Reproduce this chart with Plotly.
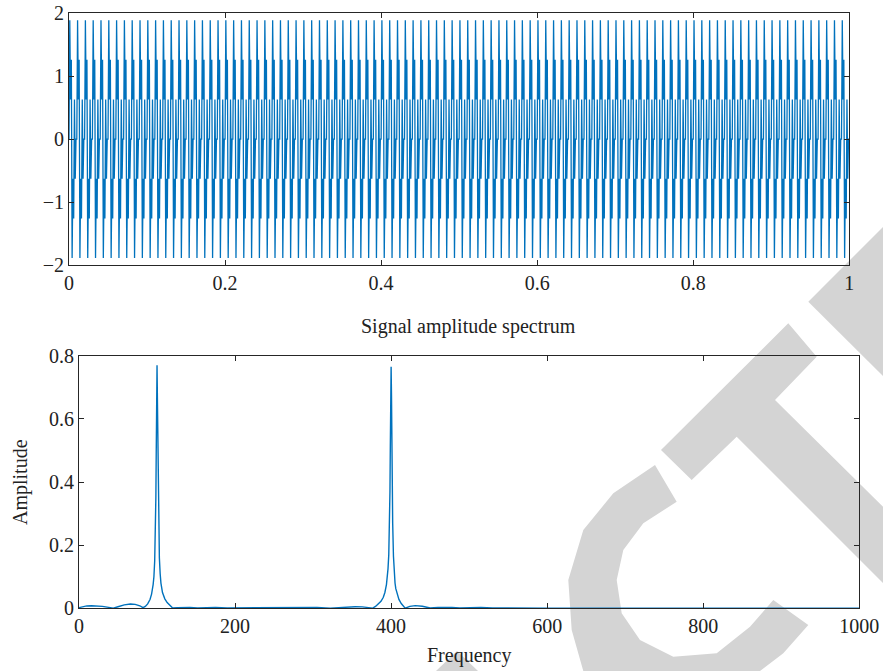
import plotly.graph_objects as go

W, H = 883, 671

# ---------------- data ----------------
# one period (10 samples, 0.01 s) of the time signal
signal_period = [0.0, 1.89, 0.63, 1.26, -1.89, -0.63, -1.26, 0.63, -0.63, 0.0]
n_periods = 100
signal_t = [i / 1000 for i in range(n_periods * len(signal_period) + 1)]
signal_y = (signal_period * n_periods) + [signal_period[0]]

spec_freq = [0, 5, 10, 16, 22, 30, 38, 44, 50, 58, 66, 72, 78, 82, 85, 88, 91, 93, 95, 96,
             97, 98, 98.5, 99, 99.5, 100, 100.5, 101, 101.5, 102, 103, 104, 105, 107, 110,
             113, 117, 120, 126, 135, 142, 152, 160, 175, 190, 200, 215, 230, 245, 260, 275,
             290, 305, 322, 335, 345, 354, 363, 370, 376.5, 380, 384, 387, 390, 392, 394,
             395, 396, 397, 398, 398.5, 399, 399.5, 400, 400.5, 401, 401.5, 402, 403, 404,
             405, 406, 408, 410, 413, 418, 424, 431, 440, 450, 460, 469, 478, 488, 500, 515,
             530, 550, 575, 600, 650, 700, 800, 900, 1000]
spec_amp = [0.002, 0.006, 0.0075, 0.008, 0.0078, 0.006, 0.003, 0.0005, 0.005, 0.011, 0.0135,
            0.0125, 0.008, 0.002, 0.006, 0.014, 0.028, 0.045, 0.075, 0.1,
            0.15, 0.25, 0.35, 0.5, 0.68, 0.77, 0.66, 0.5, 0.35, 0.26, 0.16, 0.11, 0.08, 0.05, 0.03,
            0.018, 0.008, 0.001, 0.002, 0.0035, 0.003, 0.001, 0.002, 0.003, 0.001, 0.001, 0.002,
            0.001, 0.002, 0.002, 0.001,
            0.003, 0.003, 0.0005, 0.003, 0.0045, 0.005, 0.0045, 0.003, 0.0005, 0.006, 0.014,
            0.022, 0.035, 0.05, 0.075,
            0.095, 0.125, 0.17, 0.27, 0.37, 0.52, 0.68, 0.765, 0.67, 0.5, 0.36, 0.27, 0.165, 0.11,
            0.08, 0.062, 0.04, 0.028, 0.015, 0.0005, 0.006, 0.0085, 0.0065, 0.001, 0.003, 0.0035,
            0.0025, 0.0008, 0.002, 0.0025,
            0.001, 0.0015, 0.001, 0.0005, 0.0003, 0.0002, 0.0001, 0.0001, 0.0]

top_xticks = [0, 0.2, 0.4, 0.6, 0.8, 1]
top_yticks = [-2, -1, 0, 1, 2]
bot_xticks = [0, 200, 400, 600, 800, 1000]
bot_yticks = [0, 0.2, 0.4, 0.6, 0.8]

title_text = "Signal amplitude spectrum"
xlabel_text = "Frequency"
ylabel_text = "Amplitude"

# ---------------- helpers ----------------
def px(x):
    return x / W

def py(y):
    return 1 - y / H

def path_from(points):
    s = "M " + " L ".join(f"{px(x):.5f},{py(y):.5f}" for x, y in points) + " Z"
    return s

FONT = "Liberation Serif"
LINE = "#0072BD"
AX = "#262626"
FS = 20

fig = go.Figure()
fig.add_trace(go.Scatter(x=signal_t, y=signal_y, mode="lines",
                         line=dict(color=LINE, width=1.3), xaxis="x", yaxis="y",
                         showlegend=False, hoverinfo="skip"))
fig.add_trace(go.Scatter(x=spec_freq, y=spec_amp, mode="lines",
                         line=dict(color=LINE, width=1.4), xaxis="x2", yaxis="y2",
                         showlegend=False, hoverinfo="skip"))

axis_common = dict(showgrid=False, zeroline=False, showline=True, linecolor=AX, linewidth=1,
                   mirror="allticks", ticks="inside", ticklen=5, tickcolor=AX, tickwidth=1,
                   tickfont=dict(family=FONT, size=FS, color="#222222"), automargin=False)

fig.update_layout(
    width=W, height=H,
    margin=dict(l=0, r=0, t=0, b=0),
    paper_bgcolor="white", plot_bgcolor="rgba(0,0,0,0)",
    xaxis=dict(domain=[px(69), px(849.3)], range=[0, 1], tickvals=top_xticks,
               anchor="y", **axis_common),
    yaxis=dict(domain=[py(265), py(13.3)], range=[-2, 2], tickvals=top_yticks,
               anchor="x", **axis_common),
    xaxis2=dict(domain=[px(79), px(859.3)], range=[0, 1000], tickvals=bot_xticks,
                anchor="y2", **axis_common),
    yaxis2=dict(domain=[py(608.3), py(355.7)], range=[0, 0.8], tickvals=bot_yticks,
                anchor="x2", **axis_common),
)

ann_font = dict(family=FONT, size=FS, color="#222222")
fig.add_annotation(x=px(469), y=py(326), xref="paper", yref="paper", text=title_text,
                   showarrow=False, xanchor="center", yanchor="middle", font=ann_font)
fig.add_annotation(x=px(469), y=py(655), xref="paper", yref="paper", text=xlabel_text,
                   showarrow=False, xanchor="center", yanchor="middle", font=ann_font)
fig.add_annotation(x=px(20), y=py(482), xref="paper", yref="paper", text=ylabel_text,
                   showarrow=False, xanchor="center", yanchor="middle", textangle=-90,
                   font=ann_font)

# ---------------- watermark (decoration) ----------------
GRAY = "#d4d4d4"
t_shape = [(661, 450), (691.7, 480), (736.7, 436.7), (883, 583), (883, 506.7), (775, 400),
           (816.7, 356.7), (788.3, 323.3)]
e_piece = [(808.3, 301.7), (883, 227), (883, 376), (836.7, 330)]
c_shape = [(655, 465), (613.3, 493.3), (583.3, 530), (568.3, 580), (571.7, 630), (583.3, 671),
           (760, 671), (783.3, 653.3), (808.3, 625), (773.3, 600), (750, 626.7),
           (716.7, 653.3), (673.3, 656.7), (640, 640), (621.7, 613.3), (616.7, 580),
           (623.3, 550), (643.3, 523.3), (676.7, 501.7)]
a_piece = [(436, 671), (457, 651), (478, 671)]
for pts in (t_shape, e_piece, c_shape, a_piece):
    fig.add_shape(type="path", path=path_from(pts), xref="paper", yref="paper",
                  fillcolor=GRAY, line=dict(width=0), layer="below")

fig.write_html("out.html")
